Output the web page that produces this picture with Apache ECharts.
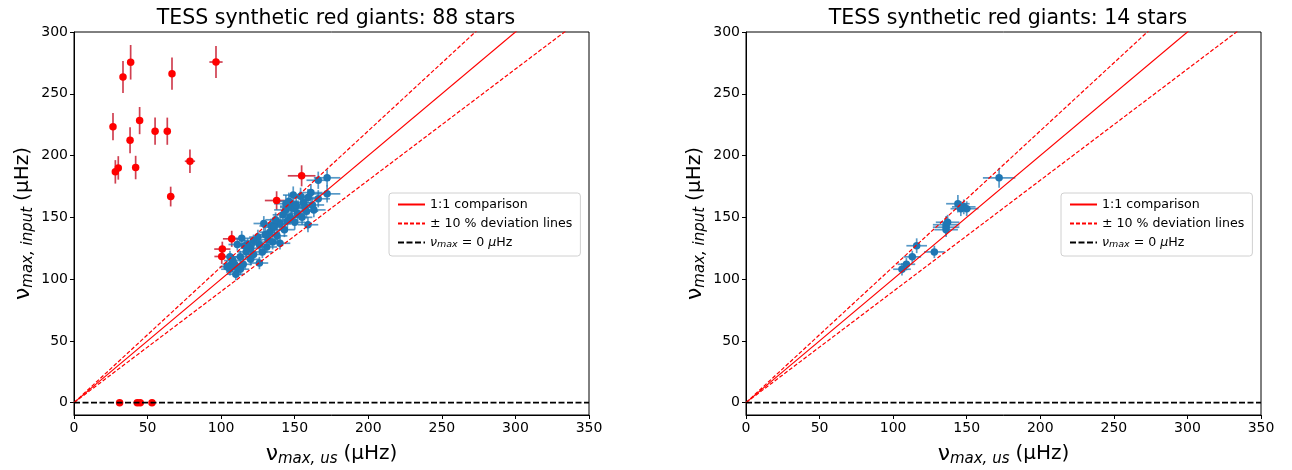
<!DOCTYPE html>
<html>
<head>
<meta charset="utf-8">
<script src="https://cdn.jsdelivr.net/npm/echarts@6/dist/echarts.min.js"></script>
<style>
  html, body { margin: 0; padding: 0; background: #fff; }
  #chart { width: 1292px; height: 470px; }
</style>
</head>
<body>
<div id="chart"></div>
<script>
// [x, y, xerr, yerr]  (μHz)
const redOutliers = [
  [38.5, 275.5, 1.5, 14], [33.3, 263.6, 1.2, 13], [66.6, 266.3, 1.5, 13], [96.5, 275.7, 4.5, 13],
  [26.5, 223.4, 1.0, 11], [44.6, 228.3, 1.2, 11], [38.1, 212.4, 1.0, 10.5], [55.1, 219.7, 1.0, 11],
  [63.4, 219.7, 1.2, 11], [78.8, 195.4, 3.5, 9.5], [28.1, 186.8, 1.0, 9.5], [30.1, 190.0, 1.0, 9.5],
  [41.9, 190.3, 1.2, 9.5], [65.7, 166.8, 2.5, 8]
];
const redCluster = [
  [154.7, 183.6, 9.4, 8.5], [137.7, 163.6, 8, 7.5], [107.2, 132.6, 6, 6.5],
  [100.8, 124.3, 5.5, 6], [100.4, 118.3, 5, 6]
];
const redZero = [[31, 0, 1, 0], [43, 0, 1.5, 0], [45, 0, 1.5, 0], [53, 0, 1.5, 0]];

const blueLeft = [
  [172, 182, 9, 7], [166, 180, 8, 7], [172, 169, 9, 7], [166, 165, 8, 7], [159, 166, 8, 7],
  [154, 167, 8, 7], [149, 168, 7, 7], [148, 159, 8, 6], [158, 155, 8, 6], [159, 144, 7, 6],
  [152, 153, 8, 6], [144, 156, 8, 6], [140, 145, 7, 6], [134, 143, 8, 6], [129, 145, 7, 6],
  [138, 135, 7, 6], [140, 129, 7, 5], [132, 132, 7, 6], [126, 128, 7, 5], [114, 133, 6, 6],
  [111, 128, 6, 5], [120, 125, 7, 5], [128, 122, 7, 5], [113, 118, 6, 5], [120, 116, 6, 5],
  [106, 118, 6, 5], [107, 112, 6, 5], [111, 109, 6, 5], [113, 108, 6, 5], [126, 113, 6, 5],
  [144, 161, 8, 7], [148, 158, 8, 6], [150, 157, 8, 6], [136, 144, 8, 6], [136, 142, 8, 6],
  [116, 127, 7, 5], [109, 112, 6, 5], [106, 108, 6, 5], [146, 163, 7, 7], [151, 160, 8, 6],
  [156, 162, 8, 7], [162, 160, 8, 6], [163, 156, 8, 6], [155, 150, 7, 6], [147, 150, 7, 6],
  [142, 152, 7, 6], [137, 148, 7, 6], [133, 138, 7, 6], [130, 136, 7, 6], [125, 134, 6, 6],
  [122, 131, 6, 5], [118, 128, 6, 5], [117, 122, 6, 5], [122, 120, 6, 5], [108, 115, 6, 5],
  [104, 110, 5, 5], [110, 104, 6, 5], [115, 112, 6, 5], [131, 126, 7, 5], [135, 130, 7, 6],
  [143, 140, 7, 6], [145, 147, 7, 6], [150, 146, 7, 6], [157, 158, 8, 6], [161, 170, 8, 7]
];
const blueRight = [
  [172, 182, 11, 8], [144, 161, 8, 7], [148, 158.5, 8, 6], [150, 157, 8, 6], [146, 157, 7, 6],
  [136, 144, 9, 7], [136, 142, 9, 6], [137, 146, 8, 6], [116, 127, 7, 6], [128, 122, 7, 5],
  [113, 118, 6, 5], [109, 112, 6, 5], [106, 108, 6, 5], [136, 140, 8, 6]
];
const lineX = [0, 350];
const titles = ['TESS synthetic red giants: 88 stars', 'TESS synthetic red giants: 14 stars'];
const ticksX = [0, 50, 100, 150, 200, 250, 300, 350];
const ticksY = [0, 50, 100, 150, 200, 250, 300];

const BLUE = '#1f77b4';
const RED = '#ff0000';
const NAMES = ['1:1 comparison', '± 10 % deviation lines', 'zero'];

let chart = echarts.init(document.getElementById('chart'));

// error bars drawn through the axes (custom series)
function errRender(color) {
  return function (params, api) {
    let x = api.value(0), y = api.value(1), ex = api.value(2), ey = api.value(3);
    let a = api.coord([x - ex, y]), b = api.coord([x + ex, y]);
    let c = api.coord([x, y - ey]), d = api.coord([x, y + ey]);
    let st = { stroke: color, lineWidth: 1.7 };
    return {
      type: 'group',
      children: [
        { type: 'line', shape: { x1: a[0], y1: a[1], x2: b[0], y2: b[1] }, style: st },
        { type: 'line', shape: { x1: c[0], y1: c[1], x2: d[0], y2: d[1] }, style: st }
      ]
    };
  };
}

function pointSeries(data, idx, color, barColor) {
  return [
    { type: 'custom', xAxisIndex: idx, yAxisIndex: idx, data: data, renderItem: errRender(barColor),
      silent: true, z: 2, clip: true },
    { type: 'scatter', xAxisIndex: idx, yAxisIndex: idx, data: data.map(p => [p[0], p[1]]),
      symbolSize: 7.5, itemStyle: { color: color, opacity: 1 }, silent: true, z: 3 }
  ];
}

function lineSeries(idx) {
  let hidden = { color: RED, opacity: 0 };
  return [
    { name: NAMES[0], type: 'line', xAxisIndex: idx, yAxisIndex: idx, symbol: 'none', z: 4,
      itemStyle: hidden,
      data: lineX.map(v => [v, v]), lineStyle: { color: RED, width: 1.2 } },
    { name: NAMES[1], type: 'line', xAxisIndex: idx, yAxisIndex: idx, symbol: 'none', z: 4,
      itemStyle: hidden,
      data: lineX.map(v => [v, v * 1.1]), lineStyle: { color: RED, width: 1.2, type: [4, 2] } },
    { name: NAMES[1], type: 'line', xAxisIndex: idx, yAxisIndex: idx, symbol: 'none', z: 4,
      itemStyle: hidden,
      data: lineX.map(v => [v, v * 0.9]), lineStyle: { color: RED, width: 1.2, type: [4, 2] } },
    { name: NAMES[2], type: 'line', xAxisIndex: idx, yAxisIndex: idx, symbol: 'none', z: 4,
      itemStyle: { color: '#000', opacity: 0 },
      data: lineX.map(v => [v, 0]), lineStyle: { color: '#000', width: 1.7, type: [6, 2.5] } }
  ];
}

const nameRich = {
  n: { fontSize: 22, fontFamily: 'DejaVu Sans', color: '#000' },
  s: { fontSize: 15, fontFamily: 'DejaVu Sans', fontStyle: 'italic', color: '#000', padding: [11, 0, 0, 0] },
  t: { fontSize: 20, fontFamily: 'DejaVu Sans', color: '#000', padding: [0, 0, 0, 6] }
};

function xAxisOf(idx) {
  return {
    type: 'value', gridIndex: idx, min: 0, max: 350,
    name: '{n|ν}{s|max, us}{t|(μHz)}', nameLocation: 'middle', nameGap: 26,
    nameTextStyle: { rich: nameRich },
    axisLine: { onZero: false, lineStyle: { color: '#000', width: 1 } },
    axisTick: { customValues: ticksX, length: 4, lineStyle: { color: '#000' } },
    axisLabel: { customValues: ticksX, fontSize: 14, fontFamily: 'DejaVu Sans', color: '#000', margin: 6 },
    splitLine: { show: false }
  };
}
function yAxisOf(idx) {
  return {
    type: 'value', gridIndex: idx, min: -10, max: 300,
    name: '{n|ν}{s|max, input}{t|(μHz)}', nameLocation: 'middle', nameGap: 38, nameRotate: 90,
    nameTextStyle: { rich: nameRich },
    axisLine: { onZero: false, lineStyle: { color: '#000', width: 1 } },
    axisTick: { customValues: ticksY, length: 4, lineStyle: { color: '#000' } },
    axisLabel: { customValues: ticksY, fontSize: 14, fontFamily: 'DejaVu Sans', color: '#000', margin: 6 },
    splitLine: { show: false }
  };
}

function legendOf(left) {
  return {
    orient: 'vertical', left: left, top: 193,
    data: [NAMES[0], NAMES[1], NAMES[2]],
    itemWidth: 27, itemHeight: 12, itemGap: 6,
    padding: [5, 8, 6, 8],
    backgroundColor: '#fff', borderColor: '#d0d0d0', borderWidth: 1, borderRadius: 3,
    selectedMode: false,
    itemStyle: { opacity: 0 },
    formatter: function (name) {
      if (name === 'zero') return '{i|ν}{b|max}{r| = 0 }{i|μ}{r|Hz}';
      return name;
    },
    textStyle: {
      fontSize: 12.6, fontFamily: 'DejaVu Sans', color: '#000',
      rich: {
        i: { fontSize: 12.6, fontFamily: 'DejaVu Sans', fontStyle: 'italic', color: '#000' },
        b: { fontSize: 9.5, fontFamily: 'DejaVu Sans', fontStyle: 'italic', color: '#000', padding: [5, 0, 0, 0] },
        r: { fontSize: 12.6, fontFamily: 'DejaVu Sans', color: '#000' }
      }
    }
  };
}

let series = [];
series = series.concat(pointSeries(redOutliers.concat(redCluster, redZero), 0, RED, 'rgba(200,30,50,0.85)'));
series = series.concat(pointSeries(blueLeft, 0, BLUE, 'rgba(31,119,180,0.75)'));
series = series.concat(lineSeries(0));
series = series.concat(pointSeries(blueRight, 1, BLUE, 'rgba(31,119,180,0.75)'));
series = series.concat(lineSeries(1));

let titleStyle = { fontSize: 20.5, fontWeight: 'normal', fontFamily: 'DejaVu Sans', color: '#000' };
let option = {
  animation: false,
  backgroundColor: '#fff',
  title: [
    { text: titles[0], left: 331, top: 3, textAlign: 'center', textStyle: titleStyle },
    { text: titles[1], left: 1003, top: 3, textAlign: 'center', textStyle: titleStyle }
  ],
  grid: [
    { left: 74, top: 32, width: 515, height: 383, show: true, borderColor: '#000', borderWidth: 1,
      outerBoundsMode: 'none', containLabel: false },
    { left: 746, top: 32, width: 515, height: 383, show: true, borderColor: '#000', borderWidth: 1,
      outerBoundsMode: 'none', containLabel: false }
  ],
  legend: [legendOf(389), legendOf(1061)],
  xAxis: [xAxisOf(0), xAxisOf(1)],
  yAxis: [yAxisOf(0), yAxisOf(1)],
  series: series
};
chart.setOption(option);

window.onresize = function () { chart.resize(); };
</script>
</body>
</html>
